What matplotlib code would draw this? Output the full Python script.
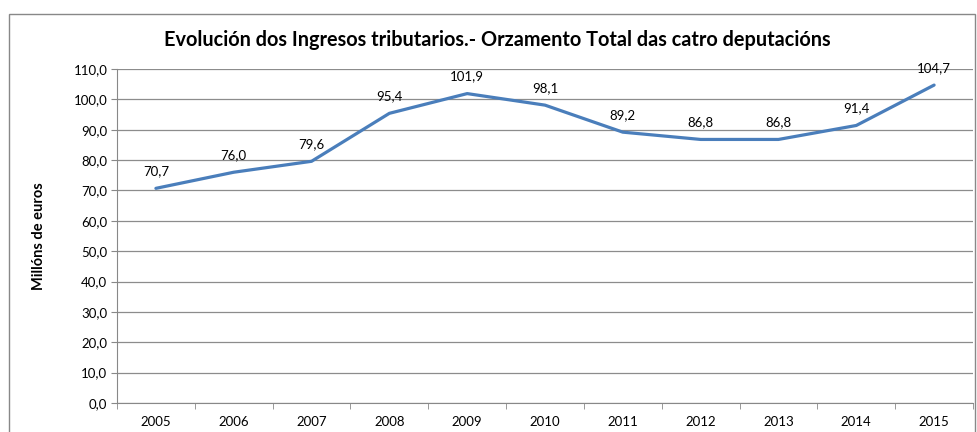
import matplotlib
matplotlib.use("Agg")
import matplotlib.pyplot as plt
from matplotlib.patches import Rectangle

years = ["2005", "2006", "2007", "2008", "2009", "2010", "2011", "2012", "2013", "2014", "2015"]
ingresos = [70.7, 76.0, 79.6, 95.4, 101.9, 98.1, 89.2, 86.8, 86.8, 91.4, 104.7]
y_ticks = [0, 10, 20, 30, 40, 50, 60, 70, 80, 90, 100, 110]

plt.rcParams['font.family'] = ['Lato', 'DejaVu Sans']

fig = plt.figure(figsize=(9.77, 4.32), dpi=100)
W, H = 977, 432

# outer chart border (cut at the bottom, as in the source)
fig.patches.append(Rectangle((9 / W, -0.1), (975 - 9) / W, (432 - 14) / H + 0.1,
                             transform=fig.transFigure, fill=False,
                             edgecolor="#888888", linewidth=1.0))

ax = fig.add_axes([117 / W, (H - 403) / H, (973 - 117) / W, (403 - 69) / H])

x = list(range(len(years)))
ax.plot(x, ingresos, color="#4A7EBB", linewidth=2.3, solid_capstyle="round")

for xi, v in zip(x, ingresos):
    ax.annotate(f"{v:.1f}".replace(".", ","), (xi, v), xytext=(0, 8),
                textcoords="offset points", ha="center", va="bottom",
                fontsize=9.5, color="black")

ax.set_xlim(-0.5, len(years) - 0.5)
ax.set_ylim(0, 110)
ax.set_yticks(y_ticks)
ax.set_yticklabels([f"{t:.1f}".replace(".", ",") for t in y_ticks], fontsize=9.5)
ax.set_xticks(x)
ax.set_xticklabels(years, fontsize=9.5)
ax.set_xticks([i - 0.5 for i in range(len(years) + 1)], minor=True)
ax.tick_params(axis="x", which="major", length=0, pad=9)
ax.tick_params(axis="x", which="minor", length=4, color="#888888")
ax.tick_params(axis="y", length=4, color="#888888", pad=3)

ax.grid(True, axis="y", color="#8C8C8C", linewidth=0.9)
ax.set_axisbelow(True)
for s in ["top", "right"]:
    ax.spines[s].set_visible(False)
ax.spines["left"].set_color("#888888")
ax.spines["bottom"].set_color("#888888")

fig.text(497 / W, 1 - 40 / H, "Evolución dos Ingresos tributarios.- Orzamento Total das catro deputacións",
         ha="center", va="center", fontsize=14.3, fontweight="bold")
fig.text(39 / W, 1 - 236 / H, "Millóns de euros", rotation=90, ha="center", va="center",
         fontsize=10.5, fontweight="bold")

plt.savefig("out.png", dpi=100)
